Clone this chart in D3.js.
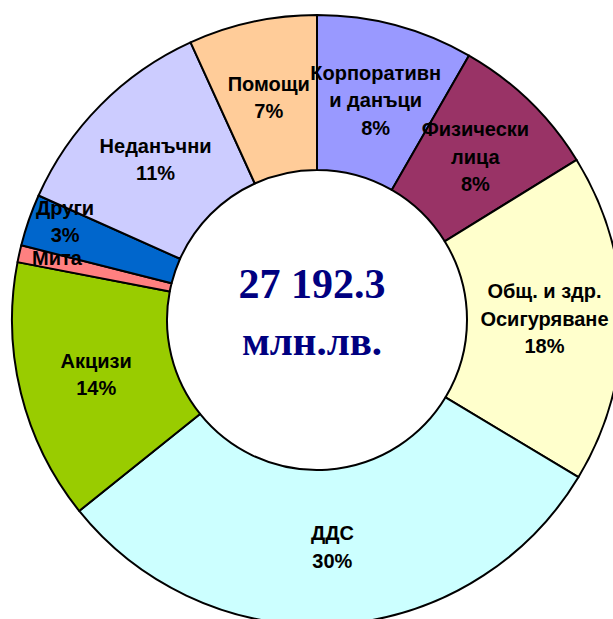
<!DOCTYPE html>
<html>
<head>
<meta charset="utf-8">
<script src="https://cdn.jsdelivr.net/npm/d3@7"></script>
<style>
  body { margin: 0; background: #fff; }
  .lbl { font-family: "Liberation Sans", Arial, sans-serif; font-weight: bold; font-size: 20px; fill: #000; }
  .total { font-family: "Liberation Serif", "Times New Roman", serif; font-weight: bold; fill: #000080; }
</style>
</head>
<body>
<script>
// revenue structure, share of total (%), clockwise from 12 o'clock
var categories = ["Корпоративни данъци", "Физически лица", "Общ. и здр. Осигуряване", "ДДС", "Акцизи", "Мита", "Други", "Неданъчни", "Помощи"];
var shares = [8.3, 7.9, 17.4, 30.6, 13.8, 0.9, 2.75, 11.5, 6.8];
var pctLabels = ["8%", "8%", "18%", "30%", "14%", "", "3%", "11%", "7%"];
var labelLines = [["Корпоративн", "и данъци"], ["Физически", "лица"], ["Общ. и здр.", "Осигуряване"], ["ДДС"], ["Акцизи"], ["Мита"], ["Други"], ["Неданъчни"], ["Помощи"]];
var colors = ["#9999FF", "#993366", "#FFFFCC", "#CCFFFF", "#99CC00", "#FF8080", "#0066CC", "#CCCCFF", "#FFCC99"];
var totalText = ["27 192.3", "млн.лв."];

var svgWidth = 613;
var svgHeight = 619;
var cx = 317, cy = 320;
var outerR = 305, innerR = 150;

var svg = d3.select("body")
            .append("svg")
            .attr("width", svgWidth)
            .attr("height", svgHeight);

var chartGroup = svg.append("g")
                .attr("transform", `translate(${cx}, ${cy})`);

var data = categories.map(function(c, i) {
    return { name: c, value: shares[i], pct: pctLabels[i], lines: labelLines[i], color: colors[i] };
});

var pie = d3.pie()
    .sort(null)
    .value(d => d.value);

var arc = d3.arc()
    .innerRadius(innerR)
    .outerRadius(outerR);

var arcs = pie(data);

chartGroup.selectAll("path")
    .data(arcs)
    .enter()
    .append("path")
    .attr("d", arc)
    .attr("fill", d => d.data.color)
    .attr("stroke", "#000")
    .attr("stroke-width", 2)
    .attr("stroke-linejoin", "round");

// small slices get their label pushed outwards (like Excel does)
var nudge = { "Мита": [-38, -13], "Други": [-37, -24] };
var lineH = 27.5;

chartGroup.selectAll("text.lbl")
    .data(arcs)
    .enter()
    .append("text")
    .attr("class", "lbl")
    .attr("text-anchor", "middle")
    .each(function(d) {
        var c = arc.centroid(d);
        var off = nudge[d.data.name] || [0, 0];
        var lines = d.data.lines.slice();
        if (d.data.pct) lines.push(d.data.pct);
        var x = c[0] + off[0];
        var y0 = c[1] + off[1] - (lines.length - 1) * lineH / 2 + 7;
        var t = d3.select(this);
        lines.forEach(function(l, i) {
            t.append("tspan")
             .attr("x", x)
             .attr("y", y0 + i * lineH)
             .text(l);
        });
    });

// total in the middle
chartGroup.append("text")
    .attr("class", "total")
    .attr("text-anchor", "middle")
    .attr("x", -5)
    .attr("y", -22)
    .style("font-size", "42px")
    .text(totalText[0]);

chartGroup.append("text")
    .attr("class", "total")
    .attr("text-anchor", "middle")
    .attr("x", -5)
    .attr("y", 35)
    .style("font-size", "41px")
    .text(totalText[1]);
</script>
</body>
</html>
